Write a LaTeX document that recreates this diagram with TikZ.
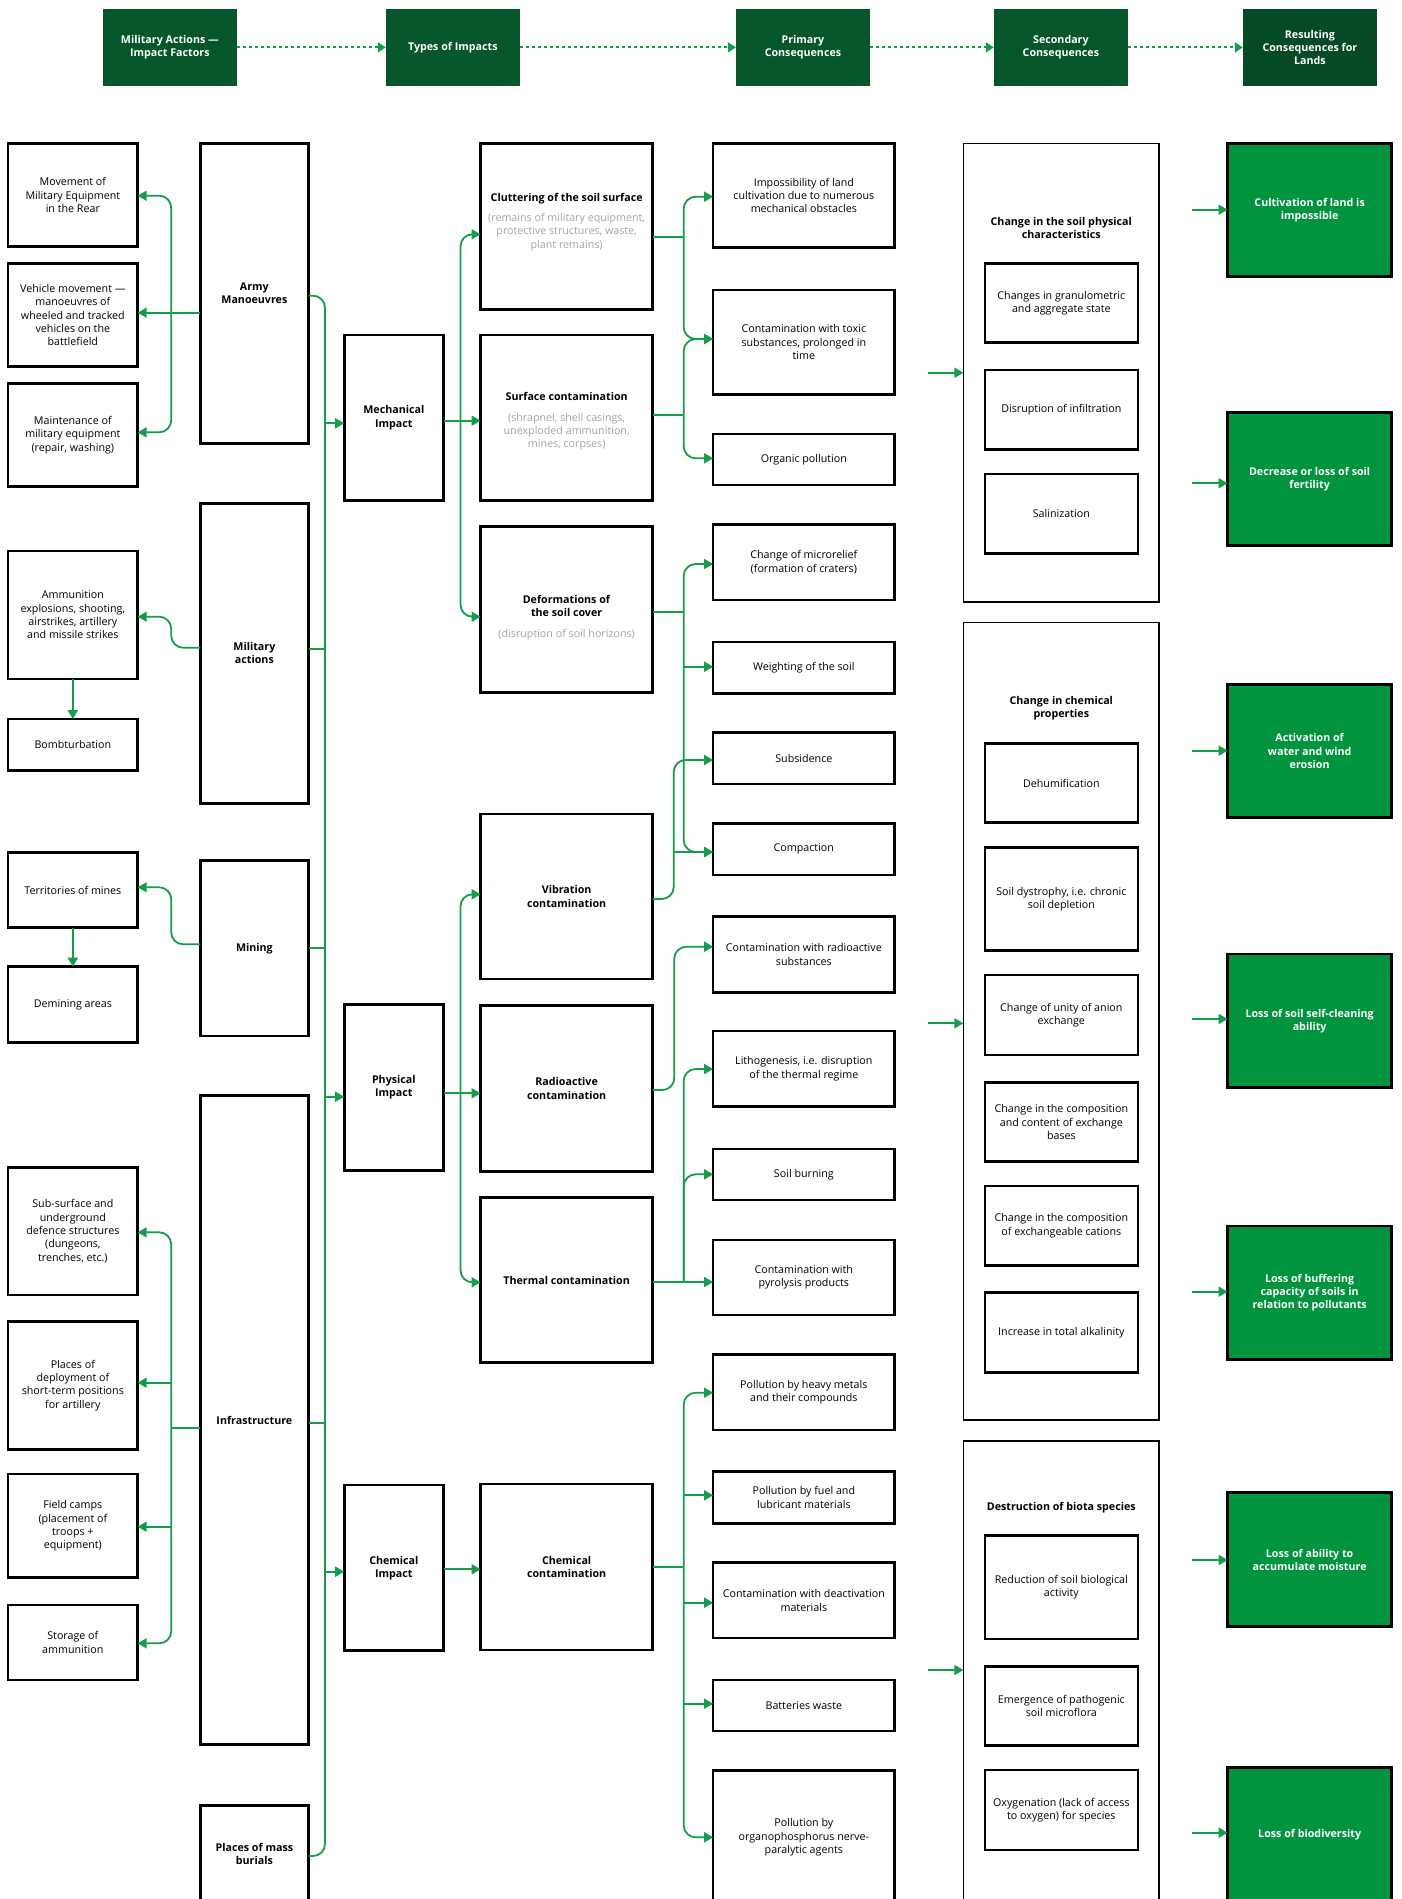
\documentclass[tikz,border=0pt]{standalone}
\usepackage{fontspec}
\setmainfont{Open Sans}
\usetikzlibrary{arrows.meta,calc}
\definecolor{hdr}{RGB}{5,86,43}
\definecolor{hdrd}{RGB}{3,74,37}
\definecolor{gfill}{RGB}{1,148,63}
\definecolor{ln}{RGB}{19,158,74}
\definecolor{gr}{RGB}{165,165,165}
\newcommand\fs{\fontsize{10.7}{13.3}\selectfont}
\newcommand\mkbox[7]{\node[#6,anchor=north west,minimum width={#4pt-#2pt},minimum height={#5pt-#3pt}] (#1) at (#2,#3) {#7};}
\begin{document}
\begin{tikzpicture}[x=1pt,y=-1pt,
 every node/.style={font=\fs, align=center, inner sep=2pt, outer sep=0pt},
 bx/.style={draw=black, line width=2.6pt, fill=white},
 bbx/.style={bx, font=\fs\bfseries},
 grp/.style={draw=black, line width=1.6pt, fill=white},
 hbox/.style={fill=hdr, text=white, font=\fs\bfseries},
 gbox/.style={draw=black, line width=2.6pt, fill=gfill, text=white, font=\fs\bfseries},
 conn/.style={draw=ln, line width=1.8pt},
 arr/.style={conn, -{Triangle[length=9pt,width=10pt]}},
 rc/.style={rounded corners=12pt},
 dots/.style={draw=ln, line width=2pt, dash pattern=on 3pt off 3pt, -{Triangle[length=8pt,width=10pt]}},
]
\useasboundingbox (0,0) rectangle (1402,1899);
\clip (0,0) rectangle (1402,1899);
\fill[white] (0,0) rectangle (1402,1899);

% headers
\mkbox{H1}{102.8}{9}{237}{85.7}{hbox}{Military Actions —\\Impact Factors}
\mkbox{H2}{385.8}{9}{519.9}{85.7}{hbox}{Types of Impacts}
\mkbox{H3}{735.9}{9}{870}{85.7}{hbox}{Primary\\Consequences}
\mkbox{H4}{993.8}{9}{1128}{85.7}{hbox}{Secondary\\Consequences}
\mkbox{H5}{1242.8}{9}{1377}{85.7}{hbox,fill=hdrd}{Resulting\\Consequences for\\Lands}
\draw[dots] (H1) -- (H2);
\draw[dots] (H2) -- (H3);
\draw[dots] (H3) -- (H4);
\draw[dots] (H4) -- (H5);

% column A
\mkbox{A1}{8}{143.3}{137.7}{246.7}{bx}{Movement of\\Military Equipment\\in the Rear}
\mkbox{A2}{8}{263.3}{137.7}{366.7}{bx}{Vehicle movement —\\manoeuvres of\\wheeled and tracked\\vehicles on the\\battlefield}
\mkbox{A3}{8}{383.3}{137.7}{486.7}{bx}{Maintenance of\\military equipment\\(repair, washing)}
\mkbox{A4}{8}{551}{137.7}{679}{bx}{Ammunition\\explosions, shooting,\\airstrikes, artillery\\and missile strikes}
\mkbox{A5}{8}{719}{137.7}{770.3}{bx}{Bombturbation}
\mkbox{A6}{8}{852.7}{137.7}{927.7}{bx}{Territories of mines}
\mkbox{A7}{8}{966.7}{137.7}{1042.3}{bx}{Demining areas}
\mkbox{A8}{8}{1167.3}{137.7}{1295}{bx}{Sub-surface and\\underground\\defence structures\\(dungeons,\\trenches, etc.)}
\mkbox{A9}{8}{1321.7}{137.7}{1449.3}{bx}{Places of\\deployment of\\short-term positions\\for artillery}
\mkbox{A10}{8}{1474}{137.7}{1577.7}{bx}{Field camps\\(placement of\\troops +\\equipment)}
\mkbox{A11}{8}{1605}{137.7}{1680}{bx}{Storage of\\ammunition}

% column B
\mkbox{B1}{200.3}{143.3}{308.5}{443.3}{bbx}{Army\\Manoeuvres}
\mkbox{B2}{200.3}{503.3}{308.5}{803.3}{bbx}{Military\\actions}
\mkbox{B3}{200.3}{860.7}{308.5}{1036}{bbx}{Mining}
\mkbox{B4}{200.3}{1095.7}{308.5}{1744.3}{bbx}{Infrastructure}
\mkbox{B5}{200.3}{1805.7}{308.5}{1902}{bbx}{Places of mass\\burials}

% column C
\mkbox{C1}{344.2}{335}{443.5}{500.7}{bbx}{Mechanical\\Impact}
\mkbox{C2}{344.2}{1004.3}{443.5}{1170.7}{bbx}{Physical\\Impact}
\mkbox{C3}{344.2}{1485}{443.5}{1650.7}{bbx}{Chemical\\Impact}

% column D
\mkbox{D1}{480.6}{143.3}{652.7}{309.3}{bx}{}
\node (D1t) at ($(D1.center)+(0,-4.3)$) {\textbf{Cluttering of the soil surface}\\[7pt]\textcolor{gr}{(remains of military equipment,}\\\textcolor{gr}{protective structures, waste,}\\\textcolor{gr}{plant remains)}};
\mkbox{D2}{480.6}{335}{652.7}{500.7}{bx}{}
\node (D2t) at ($(D2.center)+(0,3.7)$) {\textbf{Surface contamination}\\[7pt]\textcolor{gr}{(shrapnel, shell casings,}\\\textcolor{gr}{unexploded ammunition,}\\\textcolor{gr}{mines, corpses)}};
\mkbox{D3}{480.6}{526.7}{652.7}{692.3}{bx}{}
\node (D3t) at ($(D3.center)+(0,8)$) {\textbf{Deformations of}\\\textbf{the soil cover}\\[7pt]\textcolor{gr}{(disruption of soil horizons)}};
\mkbox{D4}{480.6}{814}{652.7}{979}{bbx}{Vibration\\contamination}
\mkbox{D5}{480.6}{1005.7}{652.7}{1171.3}{bbx}{Radioactive\\contamination}
\mkbox{D6}{480.6}{1197.3}{652.7}{1362.7}{bbx}{Thermal contamination}
\mkbox{D7}{480.6}{1484}{652.7}{1650}{bbx}{Chemical\\contamination}

% column E
\mkbox{E1}{713.1}{143.3}{894.6}{247.3}{bx}{Impossibility of land\\cultivation due to numerous\\mechanical obstacles}
\mkbox{E2}{713.1}{290}{894.6}{394.3}{bx}{Contamination with toxic\\substances, prolonged in\\time}
\mkbox{E3}{713.1}{434}{894.6}{485}{bx}{Organic pollution}
\mkbox{E4}{713.1}{524.3}{894.6}{600}{bx}{Change of microrelief\\(formation of craters)}
\mkbox{E5}{713.1}{642}{894.6}{693.3}{bx}{Weighting of the soil}
\mkbox{E6}{713.1}{732.3}{894.6}{784}{bx}{Subsidence}
\mkbox{E7}{713.1}{823.3}{894.6}{875}{bx}{Compaction}
\mkbox{E8}{713.1}{916.7}{894.6}{992.3}{bx}{Contamination with radioactive\\substances}
\mkbox{E9}{713.1}{1031}{894.6}{1106.7}{bx}{Lithogenesis, i.e. disruption\\of the thermal regime}
\mkbox{E10}{713.1}{1149}{894.6}{1200}{bx}{Soil burning}
\mkbox{E11}{713.1}{1240}{894.6}{1315}{bx}{Contamination with\\pyrolysis products}
\mkbox{E12}{713.1}{1354.3}{894.6}{1430}{bx}{Pollution by heavy metals\\and their compounds}
\mkbox{E13}{713.1}{1471.7}{894.6}{1523.3}{bx}{Pollution by fuel and\\lubricant materials}
\mkbox{E14}{713.1}{1562.7}{894.6}{1638}{bx}{Contamination with deactivation\\materials}
\mkbox{E15}{713.1}{1680}{894.6}{1731}{bx}{Batteries waste}
\mkbox{E16}{713.1}{1770.7}{894.6}{1904}{bx}{Pollution by\\organophosphorus nerve-\\paralytic agents}

% column F
\mkbox{F1}{963.4}{143.3}{1159.2}{601.7}{grp}{}
\mkbox{F2}{963.4}{622.3}{1159.2}{1420}{grp}{}
\mkbox{F3}{963.4}{1440.7}{1159.2}{1904}{grp}{}
\node[font=\fs\bfseries] (F1t) at (1061.3,228) {Change in the soil physical\\characteristics};
\node[font=\fs\bfseries] (F2t) at (1061.3,708.3) {Change in chemical\\properties};
\node[font=\fs\bfseries] (F3t) at (1061.3,1507.3) {Destruction of biota species};
\mkbox{F1a}{984.9}{263.3}{1137.8}{342.7}{bx}{Changes in granulometric\\and aggregate state}
\mkbox{F1b}{984.9}{370}{1137.8}{449.3}{bx}{Disruption of infiltration}
\mkbox{F1c}{984.9}{474}{1137.8}{553.3}{bx}{Salinization}
\mkbox{F2a}{984.9}{743.3}{1137.8}{822.7}{bx}{Dehumification}
\mkbox{F2b}{984.9}{847.3}{1137.8}{950.7}{bx}{Soil dystrophy, i.e. chronic\\soil depletion}
\mkbox{F2c}{984.9}{975}{1137.8}{1055}{bx}{Change of unity of anion\\exchange}
\mkbox{F2d}{984.9}{1082.3}{1137.8}{1161.7}{bx}{Change in the composition\\and content of exchange\\bases}
\mkbox{F2e}{984.9}{1186}{1137.8}{1265.3}{bx}{Change in the composition\\of exchangeable cations}
\mkbox{F2f}{984.9}{1292.7}{1137.8}{1372.3}{bx}{Increase in total alkalinity}
\mkbox{F3a}{984.9}{1535.7}{1137.8}{1639}{bx}{Reduction of soil biological\\activity}
\mkbox{F3b}{984.9}{1666.7}{1137.8}{1745.7}{bx}{Emergence of pathogenic\\soil microflora}
\mkbox{F3c}{984.9}{1770}{1137.8}{1850}{bx}{Oxygenation (lack of access\\to oxygen) for species}

% column G
\mkbox{G1}{1227.6}{143.3}{1391.7}{276.7}{gbox}{Cultivation of land is\\impossible}
\mkbox{G2}{1227.6}{412.3}{1391.7}{545.7}{gbox}{Decrease or loss of soil\\fertility}
\mkbox{G3}{1227.6}{684.3}{1391.7}{817.7}{gbox}{Activation of\\water and wind\\erosion}
\mkbox{G4}{1227.6}{954}{1391.7}{1087.7}{gbox}{Loss of soil self-cleaning\\ability}
\mkbox{G5}{1227.6}{1226}{1391.7}{1359.3}{gbox}{Loss of buffering\\capacity of soils in\\relation to pollutants}
\mkbox{G6}{1227.6}{1492.7}{1391.7}{1626.7}{gbox}{Loss of ability to\\accumulate moisture}
\mkbox{G7}{1227.6}{1767.7}{1391.7}{1902}{gbox}{Loss of biodiversity}

% ---- connectors A-B
\coordinate (la) at (171.2,312.7);
\draw[arr] (B1.west |- la) -- (A2.east |- la);
\draw[arr,rc] (la) |- (A1.east |- 0,195.7);
\draw[arr,rc] (la) |- (A3.east |- 0,432.3);
\coordinate (lm1) at (171.2,647.7);
\coordinate (lm2) at (171.2,616.7);
\draw[arr,rc] (B2.west |- lm1) -- (lm1) -- (lm2) -- (A4.east |- lm2);
\coordinate (ln1) at (171.2,944.3);
\coordinate (ln2) at (171.2,887.3);
\draw[arr,rc] (B3.west |- ln1) -- (ln1) -- (ln2) -- (A6.east |- ln2);
\draw[arr] (A4) -- (A5);
\draw[arr] (A6) -- (A7);
\coordinate (li) at (171.2,1428.3);
\coordinate (li9) at (171.2,1382.7);
\coordinate (li10) at (171.2,1526.7);
\draw[conn] (B4.west |- li) -- (li);
\draw[arr,rc] (li) |- (A8.east |- 0,1232.3);
\draw[arr,rc] (li) |- (A11.east |- 0,1643.3);
\draw[arr] (li9) -- (A9.east |- li9);
\draw[arr] (li10) -- (A10.east |- li10);

% ---- B-C bus
\coordinate (rb1) at (325,295.7);
\coordinate (rb2) at (325,1856);
\draw[conn,rc] (B1.east |- rb1) -- (rb1) -- (rb2) -- (B5.east |- rb2);
\draw[conn] (B2.east |- 0,648.7) -- (325,648.7);
\draw[conn] (B3.east |- 0,948) -- (325,948);
\draw[conn] (B4.east |- 0,1422.7) -- (325,1422.7);
\coordinate (rc1) at (325,423.3);
\coordinate (rc2) at (325,1096.7);
\coordinate (rc3) at (325,1571.7);
\draw[arr] (rc1) -- (C1.west |- rc1);
\draw[arr] (rc2) -- (C2.west |- rc2);
\draw[arr] (rc3) -- (C3.west |- rc3);

% ---- C-D
\coordinate (cm) at (460.5,420.7);
\draw[arr] (C1.east |- cm) -- (D2.west |- cm);
\draw[arr,rc] (cm) |- (D1.west |- 0,234.3);
\draw[arr,rc] (cm) |- (D3.west |- 0,616.7);
\coordinate (cp) at (460.5,1093.3);
\draw[arr] (C2.east |- cp) -- (D5.west |- cp);
\draw[arr,rc] (cp) |- (D4.west |- 0,894.3);
\draw[arr,rc] (cp) |- (D6.west |- 0,1282.3);
\coordinate (cc) at (460.5,1569.3);
\draw[arr] (C3.east |- cc) -- (D7.west |- cc);

% ---- D-E
\coordinate (d1) at (683.7,237);
\draw[conn] (D1.east |- d1) -- (d1);
\draw[arr,rc] (d1) |- (E1.west |- 0,196.7);
\draw[arr,rc] (d1) |- (E2.west |- 0,339);
\coordinate (d2) at (683.7,415.3);
\draw[conn] (D2.east |- d2) -- (d2);
\draw[arr,rc] (d2) |- (E2.west |- 0,339);
\draw[arr,rc] (d2) |- (E3.west |- 0,458.3);
\coordinate (d3) at (683.7,611.7);
\coordinate (d3b) at (683.7,666.7);
\draw[conn] (D3.east |- d3) -- (d3);
\draw[arr,rc] (d3) |- (E4.west |- 0,564);
\draw[arr] (d3b) -- (E5.west |- d3b);
\draw[arr,rc] (d3) |- (E7.west |- 0,852);
\coordinate (d4a) at (673.7,899);
\coordinate (d4b) at (673.7,760);
\coordinate (d4c) at (673.7,852);
\draw[arr,rc] (D4.east |- d4a) -- (d4a) -- (d4b) -- (E6.west |- d4b);
\draw[arr] (d4c) -- (E7.west |- d4c);
\coordinate (d5a) at (674.3,1090);
\coordinate (d5b) at (674.3,946.7);
\draw[arr,rc] (D5.east |- d5a) -- (d5a) -- (d5b) -- (E8.west |- d5b);
\coordinate (d6) at (683.7,1282);
\draw[arr] (D6.east |- d6) -- (E11.west |- d6);
\draw[arr,rc] (d6) |- (E9.west |- 0,1069);
\draw[arr,rc] (d6) |- (E10.west |- 0,1174.3);
\coordinate (d7) at (683.7,1566.7);
\coordinate (d7a) at (683.7,1495.3);
\coordinate (d7b) at (683.7,1602.7);
\coordinate (d7c) at (683.7,1703.7);
\draw[conn] (D7.east |- d7) -- (d7);
\draw[arr,rc] (d7) |- (E12.west |- 0,1392.7);
\draw[arr,rc] (d7) |- (E16.west |- 0,1837.3);
\draw[arr] (d7a) -- (E13.west |- d7a);
\draw[arr] (d7b) -- (E14.west |- d7b);
\draw[arr] (d7c) -- (E15.west |- d7c);

% ---- free arrows into F and G
\coordinate (f1) at (928,372.7);
\coordinate (f2) at (928,1023.3);
\coordinate (f3) at (928,1670);
\draw[arr] (f1) -- (F1.west |- f1);
\draw[arr] (f2) -- (F2.west |- f2);
\draw[arr] (f3) -- (F3.west |- f3);
\coordinate (g1) at (1191.8,209.7);
\coordinate (g2) at (1191.8,483.3);
\coordinate (g3) at (1191.8,750.7);
\coordinate (g4) at (1191.8,1019);
\coordinate (g5) at (1191.8,1291.7);
\coordinate (g6) at (1191.8,1560);
\coordinate (g7) at (1191.8,1832.7);
\draw[arr] (g1) -- (G1.west |- g1);
\draw[arr] (g2) -- (G2.west |- g2);
\draw[arr] (g3) -- (G3.west |- g3);
\draw[arr] (g4) -- (G4.west |- g4);
\draw[arr] (g5) -- (G5.west |- g5);
\draw[arr] (g6) -- (G6.west |- g6);
\draw[arr] (g7) -- (G7.west |- g7);
\end{tikzpicture}
\end{document}
